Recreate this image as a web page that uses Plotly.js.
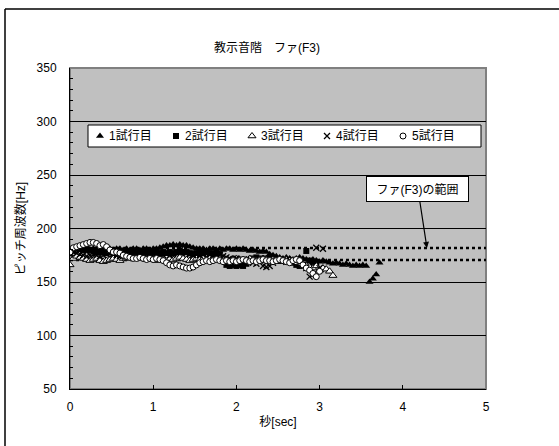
<!DOCTYPE html>
<html>
<head>
<meta charset="utf-8">
<script src="https://cdn.plot.ly/plotly-3.0.1.min.js"></script>
<style>html,body{margin:0;padding:0;background:#fff;}#chart{width:559px;height:446px;}</style>
</head>
<body>
<div id="chart"></div>
<script>
// ---- data ----
const time = [0.00,0.04,0.08,0.12,0.16,0.20,0.24,0.28,0.32,0.36,
0.40,0.44,0.48,0.52,0.56,0.60,0.64,0.68,0.72,0.76,
0.80,0.84,0.88,0.92,0.96,1.00,1.04,1.08,1.12,1.16,
1.20,1.24,1.28,1.32,1.36,1.40,1.44,1.48,1.52,1.56,
1.60,1.64,1.68,1.72,1.76,1.80,1.84,1.88,1.92,1.96,
2.00,2.04,2.08,2.12,2.16,2.20,2.24,2.28,2.32,2.36,
2.40,2.44,2.48,2.52,2.56,2.60,2.64,2.68,2.72,2.76,
2.80,2.84,2.88,2.92,2.96,3.00,3.04,3.08,3.12,3.16,
3.20,3.24,3.28,3.32,3.36,3.40,3.44,3.48,3.52,3.56,
3.60,3.64,3.68,3.72];

const trial1 = [176,178,180,181,180,179,180,181,180,179,
180,181,181,180,181,181,180,181,180,181,
181,180,181,181,180,181,181,182,183,184,
184,185,184,185,184,184,183,182,181,181,
181,180,181,181,180,181,180,181,181,180,
181,180,181,180,179,180,179,178,179,178,
176,175,174,173,172,173,172,171,172,173,
172,171,170,171,170,169,170,169,168,167,
168,167,166,167,166,165,166,165,166,165,
150,153,157,168];

const trial2 = [180,181,182,181,180,181,180,179,178,178,
178,177,178,177,178,177,178,178,177,178,
177,178,177,178,177,178,178,177,178,177,
178,177,178,179,178,178,177,176,177,178,
177,178,177,176,177,176,170,166,165,166,
165,166,165,167,170,172,173,172,171,172,
172,171,170,171,170,169,170,168,166,165,
166,179,170,166,168];

const trial3 = [166,172,174,173,172,171,170,171,172,170,
169,170,171,172,171,170,172,173,172,173,
172,173,172,171,172,171,170,171,172,173,
172,171,172,173,172,171,170,171,172,171,
172,171,172,171,172,173,172,171,170,171,
172,171,170,171,172,171,170,171,172,171,
170,171,170,169,170,171,170,169,168,167,
166,165,164,163,165,161,163,162,160,156];

const trial4 = [176,178,177,176,175,174,175,176,175,174,
175,176,177,176,175,174,175,176,175,176,
177,176,175,174,175,174,173,174,175,176,
175,176,178,180,179,177,176,175,176,175,
176,177,176,175,176,175,174,173,172,171,
172,171,170,171,170,168,167,170,165,164,
165,168,170,171,170,169,170,171,170,168,
166,163,155,157,182,163,181];

const trial5 = [178,182,183,184,185,186,187,187,186,184,
185,183,180,178,178,177,175,174,173,172,
172,173,172,171,172,171,172,171,170,168,
166,165,166,165,164,163,163,164,166,168,
169,170,169,170,171,170,169,170,169,170,
169,170,171,170,169,170,169,170,171,170,
170,169,170,171,170,169,168,170,171,170,
166,163,161,158,155,160];

const seriesNames = ['1試行目','2試行目','3試行目','4試行目','5試行目'];
const rangeX = [0, 5];
const rangeHigh = [181.8, 181.8];
const rangeLow = [170.5, 170.5];
const rangeLabel = 'ファ(F3)の範囲';
const chartTitle = '教示音階\u3000ファ(F3)';
const xTitle = '秒[sec]';
const yTitle = 'ピッチ周波数[Hz]';

// ---- layout constants (pixels of the plot area: left 70, width 416, bottom 389, height 321) ----
const PL = 70, PW = 416, PB = 389, PH = 321;
const px2x = p => (p - PL) / PW;
const py2y = p => (PB - p) / PH;
const legSymPx = [100, 176, 252, 327, 403];
const legY = py2y(136);

const FONT = 'Liberation Sans, Arial, Noto Sans CJK JP, sans-serif';
const series = [trial1, trial2, trial3, trial4, trial5];
const markers = [
  {symbol:'triangle-up', size:7, color:'#000', line:{color:'#000', width:0}},
  {symbol:'square', size:6, color:'#000', line:{color:'#000', width:0}},
  {symbol:'triangle-up', size:7, color:'#fff', line:{color:'#000', width:1}},
  {symbol:'x-thin', size:6, color:'#000', line:{color:'#000', width:1.3}},
  {symbol:'circle', size:6, color:'#fff', line:{color:'#000', width:1}}
];

const traces = [];
traces.push({x: rangeX, y: rangeHigh, mode:'lines', line:{color:'#000', width:2.5, dash:'dot'}, showlegend:false, hoverinfo:'skip'});
traces.push({x: rangeX, y: rangeLow, mode:'lines', line:{color:'#000', width:2.5, dash:'dot'}, showlegend:false, hoverinfo:'skip'});
series.forEach((s, k) => {
  traces.push({
    x: time.slice(0, s.length), y: s, name: seriesNames[k],
    mode:'markers', type:'scatter', marker: markers[k], showlegend:false
  });
});
// legend symbols (overlay axis 0..1 == plot area)
series.forEach((s, k) => {
  traces.push({x:[px2x(legSymPx[k])], y:[legY], xaxis:'x2', yaxis:'y2', mode:'markers',
    marker: markers[k], showlegend:false, hoverinfo:'skip', cliponaxis:false});
});

const annotations = [
  {x:4.29, y:rangeHigh[0], xref:'x', yref:'y', text:rangeLabel, showarrow:true,
   ax:-9, ay:-59, arrowhead:2, arrowsize:1, arrowwidth:1.2, arrowcolor:'#000',
   bgcolor:'#fff', bordercolor:'#000', borderwidth:1, borderpad:4, width:93, height:16,
   font:{family:FONT, size:12, color:'#000'}}
];
seriesNames.forEach((n, k) => {
  annotations.push({x:px2x(legSymPx[k] + 7), y:legY, xref:'paper', yref:'paper', text:n,
    showarrow:false, xanchor:'left', yanchor:'middle', font:{family:FONT, size:12, color:'#000'}});
});

const layout = {
  width:559, height:446,
  margin:{l:70, r:73, t:68, b:57},
  paper_bgcolor:'#fff', plot_bgcolor:'#C0C0C0',
  font:{family:FONT, size:12, color:'#000'},
  showlegend:false,
  title:{text:chartTitle, x:267/559, xref:'container', xanchor:'center', y:1-48/446, yref:'container', yanchor:'middle', font:{family:FONT, size:12, color:'#000'}},
  xaxis:{range:[0,5], dtick:1, tick0:0, ticks:'inside', ticklen:4, tickcolor:'#000',
    showline:true, linecolor:'#000', linewidth:1, showgrid:false, zeroline:false,
    tickfont:{size:12}, ticklabelstandoff:7,
    title:{text:xTitle, font:{size:12}, standoff:4}},
  yaxis:{range:[50,350], dtick:50, tick0:50, ticks:'inside', ticklen:4, tickcolor:'#000',
    minor:{dtick:10, ticks:'inside', ticklen:3, tickcolor:'#000', showgrid:false},
    showline:true, linecolor:'#000', linewidth:1, showgrid:true, gridcolor:'#000', gridwidth:1, zeroline:false,
    tickfont:{size:12}, ticklabelstandoff:10,
    title:{text:yTitle, font:{size:12}, standoff:8}},
  xaxis2:{overlaying:'x', range:[0,1], visible:false, fixedrange:true},
  yaxis2:{overlaying:'y', range:[0,1], visible:false, fixedrange:true},
  shapes:[
    {type:'rect', xref:'paper', yref:'paper', x0:0, x1:1, y0:0, y1:1, line:{color:'#808080', width:2}, layer:'below'},
    {type:'rect', xref:'paper', yref:'paper', x0:px2x(88), x1:px2x(481), y0:py2y(147), y1:py2y(125),
      fillcolor:'#fff', line:{color:'#000', width:1}, layer:'between'},
    {type:'line', xref:'paper', yref:'paper', x0:-65/416, x1:2, y0:1+59/321, y1:1+59/321, line:{color:'#000', width:1.5}},
    {type:'line', xref:'paper', yref:'paper', x0:-65/416, x1:-65/416, y0:1+59/321, y1:-1, line:{color:'#000', width:1.5}}
  ],
  annotations: annotations
};

Plotly.newPlot('chart', traces, layout, {displayModeBar:false, staticPlot:true});
</script>
</body>
</html>
